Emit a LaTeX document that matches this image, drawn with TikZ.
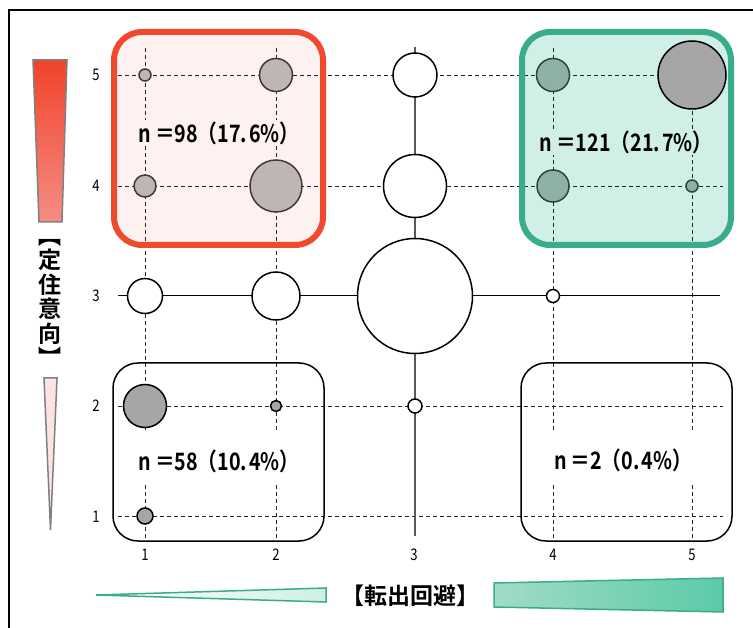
\documentclass[tikz,border=0pt]{standalone}
\usepackage{fontspec}
\setmainfont{Noto Sans CJK JP}
\newfontfamily\ejefont[FakeStretch=0.82]{Noto Sans CJK JP}
\newfontfamily\cuentafont[FakeStretch=0.82]{Noto Sans CJK JP Bold}
\newfontfamily\titulofont{Noto Sans CJK JP Bold}
\usepackage{tikz}
\usetikzlibrary{positioning}

\definecolor{rojolinea}{HTML}{EF4A2D}
\definecolor{rojofondo}{HTML}{FDF2F0}
\definecolor{rojoarriba}{HTML}{F0442A}
\definecolor{rojoabajo}{HTML}{F58C84}
\definecolor{rosa}{HTML}{FDE3E3}
\definecolor{verdelinea}{HTML}{38AC8B}
\definecolor{verdefondo}{HTML}{D0EFE6}
\definecolor{verdeclaro}{HTML}{A0DCC6}
\definecolor{verdefuerte}{HTML}{5CCAA8}
\definecolor{burbujarosa}{HTML}{BFB6B4}
\definecolor{borderosa}{HTML}{3F3838}
\definecolor{burbujaverde}{HTML}{8FB1A5}
\definecolor{bordeverde}{HTML}{27463D}
\definecolor{burbujagris}{HTML}{A6A6A6}

\begin{document}
\begin{tikzpicture}[x=1pt, y=-1pt,
    every node/.style={inner sep=0pt},
    burbuja/.style={draw, circle, line width=1.5pt, fill=white},
    brosa/.style={burbuja, fill=burbujarosa, draw=borderosa},
    bverde/.style={burbuja, fill=burbujaverde, draw=bordeverde},
    bgris/.style={burbuja, fill=burbujagris, draw=black},
    rejilla/.style={dashed, dash pattern=on 4pt off 3pt, line width=0.8pt, draw=black!85},
    eje/.style={font=\ejefont\fontsize{16}{16}\selectfont},
    cuenta/.style={font=\cuentafont\fontsize{24}{24}\selectfont, inner sep=1.5pt},
    titulo/.style={font=\titulofont\fontsize{23}{24.5}\selectfont, align=center}]
  \useasboundingbox (0,0) rectangle (753,628);

  % Marco
  \draw[line width=1.5pt] (9,628) -- (9,10) -- (753,10);

  % Cuadros (fondo)
  \fill[rojofondo, rounded corners=28pt] (114,32) rectangle (323,245);
  \fill[verdefondo, rounded corners=28pt] (522,32) rectangle (731,245);

  % Rejilla
  \foreach \y in {75,186,406,516}
    \draw[rejilla] (118,\y) -- (723,\y);
  \foreach \x in {145,276,553,692} {
    \draw[rejilla] (\x,48) -- (\x,432);
    \draw[rejilla] (\x,485) -- (\x,540);
  }
  \draw[line width=1pt] (118,296) -- (720,296);
  \draw[line width=1.5pt, black!65] (415,47) -- (415,536);

  % Cuadros (borde)
  \draw[rojolinea, line width=6pt, rounded corners=28pt] (114,32) rectangle (323,245);
  \draw[verdelinea, line width=6pt, rounded corners=28pt] (522,32) rectangle (731,245);
  \draw[line width=1.5pt, rounded corners=25pt] (113,363) rectangle (324,541);
  \draw[line width=1.5pt, rounded corners=25pt] (521,363) rectangle (732,541);

  % Burbujas
  \node[brosa, minimum size=12pt] (b15) at (145,75) {};
  \node[brosa, minimum size=33pt] (b25) at (276,75) {};
  \node[brosa, minimum size=22pt] (b14) at (145,186) {};
  \node[brosa, minimum size=52pt] (b24) at (276,186) {};
  \node[bverde, minimum size=33pt] (b45) at (553,75) {};
  \node[bgris, minimum size=68pt] (b55) at (692,75) {};
  \node[bverde, minimum size=32pt] (b44) at (553,186) {};
  \node[bverde, minimum size=12pt] (b54) at (692,186) {};
  \node[burbuja, minimum size=44pt] (b35) at (415,75) {};
  \node[burbuja, minimum size=63pt] (b34) at (415,186) {};
  \node[burbuja, minimum size=35pt] (b13) at (145,296) {};
  \node[burbuja, minimum size=48pt] (b23) at (276,296) {};
  \node[burbuja, minimum size=115pt] (b33) at (415,296) {};
  \node[burbuja, minimum size=13pt] (b43) at (553,296) {};
  \node[burbuja, minimum size=14pt] (b32) at (415,406) {};
  \node[bgris, minimum size=43pt] (b12) at (145,406) {};
  \node[bgris, minimum size=11pt] (b22) at (276,406) {};
  \node[bgris, minimum size=16pt] (b11) at (145,516) {};

  % Cifras
  \node[cuenta, fill=rojofondo] (nrojo) at (219,133) {n\hspace{4pt}＝98（17.\hspace{2pt}6\%）};
  \node[cuenta, fill=verdefondo] (nverde) at (626,142) {n\hspace{4pt}＝121（21.\hspace{2pt}7\%）};
  \node[cuenta] (nnegro) at (219,461) {n\hspace{4pt}＝58（10.\hspace{2pt}4\%）};
  \node[cuenta] (nvacio) at (623,460) {n\hspace{4pt}＝2（0.\hspace{2pt}4\%）};

  % Ejes
  \foreach \v/\y in {5/75,4/186,3/296,2/406,1/517}
    \node[eje] (y\v) at (96,\y) {\v};
  \foreach \v/\x in {1/145,2/276,3/414,4/553,5/692}
    \node[eje] (x\v) at (\x,555) {\v};

  % Cunas
  \shadedraw[top color=rojoarriba, bottom color=rojoabajo, draw=black!50, line width=1.5pt]
    (33,60) -- (67,60) -- (62,222) -- (39,222) -- cycle;
  \filldraw[fill=rosa, draw=black!50, line width=1.5pt]
    (44,378) -- (57,378) -- (50.5,530) -- cycle;
  \shadedraw[left color=white, right color=verdefondo, draw=verdelinea, line width=1.5pt]
    (96,595) -- (326,588) -- (326,602) -- cycle;
  \shadedraw[left color=verdeclaro, right color=verdefuerte, draw=verdelinea, line width=1.5pt]
    (494,583) -- (723,578) -- (723,612) -- (494,607) -- cycle;

  % Titulos
  \node[titulo] (tvertical) at (50,303) {︻\\定\\住\\意\\向\\︼};
  \node[titulo] (thorizontal) at (410,596) {【転出回避】};
\end{tikzpicture}
\end{document}
